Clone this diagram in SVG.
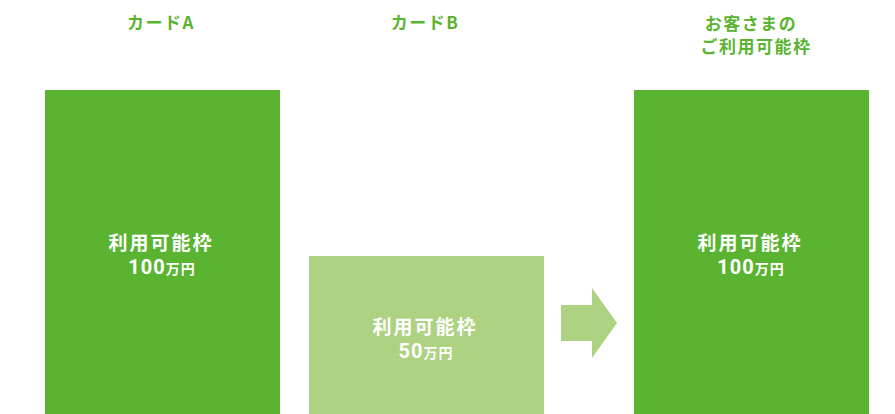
<svg xmlns="http://www.w3.org/2000/svg" width="895" height="414" viewBox="0 0 895 414">
<style>
.t{font-family:"Noto Sans CJK JP","Noto Sans",sans-serif;font-weight:bold;font-size:17px;letter-spacing:1.5px;fill:#5bb431;text-anchor:middle}
.w{font-family:"Noto Sans CJK JP","Noto Sans",sans-serif;font-weight:bold;font-size:19px;letter-spacing:2px;fill:#fff;text-anchor:middle}
.n{font-family:"Roboto","Noto Sans",sans-serif;font-size:20px;letter-spacing:1px}
.u{font-size:14px;letter-spacing:1px}
.dk{fill:#5bb431}
.lt{fill:#acd282}
</style>
<rect width="895" height="414" fill="#fff"/>
<g id="cardA">
<text class="t" x="161" y="29">カードA</text>
<rect class="dk" x="45" y="90" width="235" height="324"/>
<text class="w" x="161" y="250">利用可能枠</text>
<text class="w" x="162" y="274"><tspan class="n">100</tspan><tspan class="u">万円</tspan></text>
</g>
<g id="cardB">
<text class="t" x="425" y="29">カードB</text>
<rect class="lt" x="309" y="256" width="235" height="158"/>
<text class="w" x="425" y="334">利用可能枠</text>
<text class="w" x="426" y="358"><tspan class="n">50</tspan><tspan class="u">万円</tspan></text>
</g>
<g id="total">
<text class="t" x="751" y="30">お客さまの</text>
<text class="t" x="756" y="53">ご利用可能枠</text>
<rect class="dk" x="634" y="90" width="235" height="324"/>
<text class="w" x="750" y="250">利用可能枠</text>
<text class="w" x="751" y="274"><tspan class="n">100</tspan><tspan class="u">万円</tspan></text>
</g>
<g id="connectors">
<polygon class="lt" points="561,305 592,305 592,288 617,323 592,358 592,341 561,341"/>
</g>
</svg>
